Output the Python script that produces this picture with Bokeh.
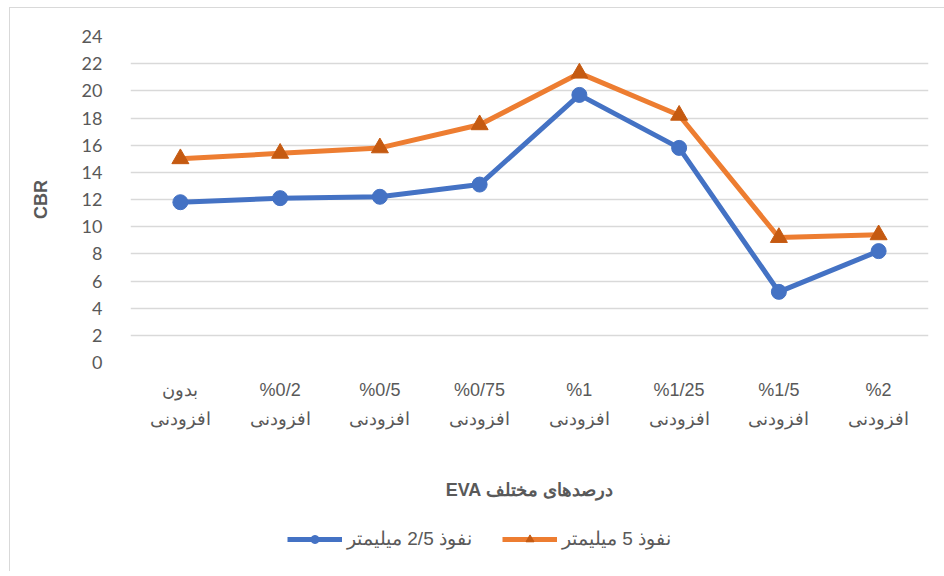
from bokeh.plotting import figure
from bokeh.layouts import column
from bokeh.models import FactorRange, Range1d, Legend, LegendItem, FixedTicker
from bokeh.embed import file_html
from bokeh.resources import INLINE

categories = ["بدون\nافزودنی", "%0/2\nافزودنی", "%0/5\nافزودنی", "%0/75\nافزودنی",
              "%1\nافزودنی", "%1/25\nافزودنی", "%1/5\nافزودنی", "%2\nافزودنی"]
cbr_25mm = [11.8, 12.1, 12.2, 13.1, 19.7, 15.8, 5.2, 8.2]
cbr_5mm = [15.0, 15.4, 15.8, 17.5, 21.3, 18.2, 9.2, 9.4]
series_names = ["نفوذ 2/5 میلیمتر", "نفوذ 5 میلیمتر"]
y_ticks = list(range(0, 25, 2))
x_title = "EVA درصدهای مختلف"
y_title = "CBR"

TEXT = "#595959"
GRID = "#D9D9D9"
BLUE = "#4472C4"
ORANGE = "#ED7D31"
ORANGE_DARK = "#C55A11"

p = figure(x_range=FactorRange(*categories), y_range=Range1d(0, 24),
           frame_width=797, frame_height=325,
           output_backend="svg", toolbar_location=None)
p.margin = (7, 0, 0, 9)
p.min_border_left = 120
p.min_border_top = 28
p.min_border_right = 18
p.min_border_bottom = 150
p.outline_line_color = None
p.background_fill_color = "white"
p.border_fill_color = "white"
p.styles = {"border-left": "1px solid #D9D9D9", "border-top": "1px solid #D9D9D9"}

p.x_range.range_padding = 0
p.yaxis.ticker = FixedTicker(ticks=y_ticks)
p.ygrid.grid_line_color = GRID
p.ygrid.grid_line_width = 1.5
p.xgrid.grid_line_color = None

for ax in (p.xaxis[0], p.yaxis[0]):
    ax.axis_line_color = None
    ax.major_tick_line_color = None
    ax.minor_tick_line_color = None
    ax.major_label_text_color = TEXT
    ax.axis_label_text_color = TEXT
    ax.axis_label_text_font_style = "bold"

p.yaxis.major_label_text_font = "Lato"
p.yaxis.major_label_text_font_size = "18px"
p.yaxis.major_label_standoff = 22
p.yaxis.axis_label = y_title
p.yaxis.axis_label_text_font = "Liberation Sans"
p.yaxis.axis_label_text_font_size = "18px"
p.yaxis.axis_label_standoff = 28

p.xaxis.major_label_text_font = "Liberation Sans"
p.xaxis.major_label_text_font_size = "18px"
p.xaxis.major_label_text_line_height = 1.45
p.xaxis.major_label_standoff = 11
p.xaxis.axis_label = x_title
p.xaxis.axis_label_text_font = "Liberation Sans"
p.xaxis.axis_label_text_font_size = "18px"
p.xaxis.axis_label_standoff = 48

p.line(categories, cbr_25mm, line_color=BLUE, line_width=5)
p.scatter(categories, cbr_25mm, marker="circle", size=15, fill_color=BLUE, line_color=BLUE)
p.line(categories, cbr_5mm, line_color=ORANGE, line_width=5)
p.scatter(categories, cbr_5mm, marker="triangle", size=17, fill_color=ORANGE_DARK, line_color=ORANGE_DARK)

# legend strip below the chart: same series, drawn outside this strip's visible y range
pl = figure(x_range=FactorRange(*categories), y_range=Range1d(100, 101),
            frame_width=797, frame_height=60,
            output_backend="svg", toolbar_location=None)
pl.margin = (0, 0, 0, 9)
pl.min_border_left = 120
pl.min_border_right = 18
pl.min_border_top = 0
pl.min_border_bottom = 0
pl.outline_line_color = None
pl.axis.visible = False
pl.grid.grid_line_color = None
pl.border_fill_color = "white"
pl.styles = {"border-left": "1px solid #D9D9D9"}

e1 = pl.line(categories, cbr_25mm, line_color=BLUE, line_width=5)
f1 = pl.scatter(categories, cbr_25mm, marker="circle", size=15, fill_color=BLUE, line_color=BLUE)
e2 = pl.line(categories, cbr_5mm, line_color=ORANGE, line_width=5)
f2 = pl.scatter(categories, cbr_5mm, marker="triangle", size=17, fill_color=ORANGE_DARK, line_color=ORANGE_DARK)

legend = Legend(items=[LegendItem(label=series_names[0], renderers=[e1, f1]),
                       LegendItem(label=series_names[1], renderers=[e2, f2])],
                orientation="horizontal", location=(157, 21))
legend.border_line_color = None
legend.background_fill_alpha = 0
legend.label_text_font = "Liberation Sans"
legend.label_text_font_size = "19px"
legend.label_text_color = TEXT
legend.glyph_width = 55
legend.glyph_height = 20
legend.spacing = 30
legend.padding = 5
legend.margin = 0
pl.add_layout(legend, "center")

layout = column(p, pl, spacing=0)
open("out.html", "w").write(file_html(layout, INLINE))
